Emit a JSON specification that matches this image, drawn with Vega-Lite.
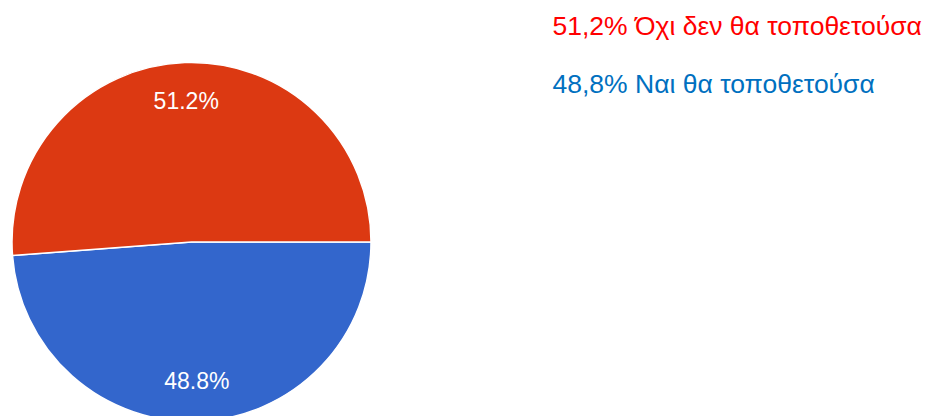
{
  "$schema": "https://vega.github.io/schema/vega-lite/v6.json",
  "width": 928,
  "height": 416,
  "autosize": "none",
  "padding": 0,
  "background": "white",
  "config": {"view": {"stroke": null}},
  "data": {
    "values": [
      {"answer": "48,8% Ναι θα τοποθετούσα", "pct": 48.8, "label": "48.8%", "order": 1},
      {"answer": "51,2% Όχι δεν θα τοποθετούσα", "pct": 51.2, "label": "51.2%", "order": 2}
    ]
  },
  "encoding": {
    "theta": {"field": "pct", "type": "quantitative", "stack": true, "scale": {"range": [1.5708, 7.8540]}},
    "order": {"field": "order", "type": "quantitative"}
  },
  "layer": [
    {
      "mark": {"type": "arc", "radius": 179.5, "x": 191.5, "y": 242, "stroke": "white", "strokeWidth": 1.5},
      "encoding": {
        "color": {
          "field": "answer",
          "type": "nominal",
          "scale": {"domain": ["51,2% Όχι δεν θα τοποθετούσα", "48,8% Ναι θα τοποθετούσα"], "range": ["#DC3912", "#3366CC"]},
          "legend": {
            "title": null,
            "orient": "none",
            "legendX": 526,
            "legendY": 14,
            "symbolSize": 0,
            "symbolStrokeWidth": 0,
            "symbolOpacity": 0,
            "labelOffset": 0,
            "labelFont": "Liberation Sans",
            "labelFontSize": 26.5,
            "labelLimit": 0,
            "rowPadding": 30.5,
            "labelColor": {"expr": "indexof(datum.value, '51,2') >= 0 ? '#FF0000' : '#0070C0'"}
          }
        }
      }
    },
    {
      "mark": {"type": "text", "radius": 140, "x": 191.5, "y": 242, "fill": "white", "font": "Liberation Sans", "fontSize": 23, "align": "center", "baseline": "middle"},
      "encoding": {
        "text": {"field": "label", "type": "nominal"}
      }
    }
  ]
}
